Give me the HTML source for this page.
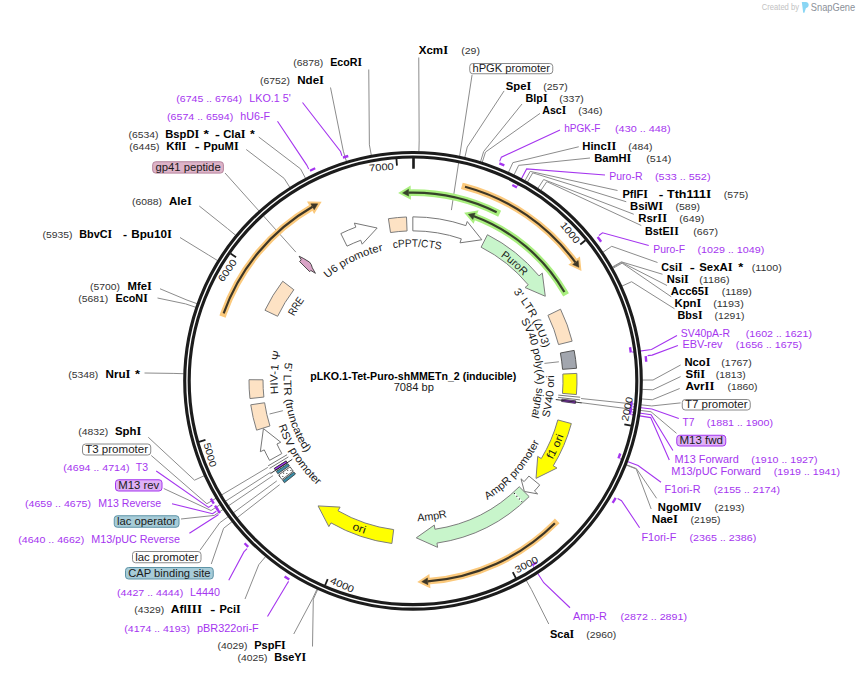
<!DOCTYPE html><html><head><meta charset="utf-8"><style>
body{margin:0;background:#fff;}
svg{display:block;font-family:"Liberation Sans",sans-serif;}
.b{font-weight:bold;font-size:10.8px;fill:#000;}
.n{font-size:9.4px;fill:#333;}
.si{font-family:"Liberation Serif",serif;font-weight:bold;font-size:11.7px;}
.p{font-size:10.8px;fill:#a535ef;}
.pn{font-size:9.4px;fill:#a535ef;}
.bt{font-size:10.8px;fill:#1a1a1a;}
.ft{fill:#1a1a1a;}
.tk{font-size:9.8px;fill:#222;}
.bx{stroke-width:1;}
.w{fill:#fff;stroke:#8a8a8a;}
.pk{fill:#ddb3c8;stroke:#b5849c;}
.pu{fill:#dfb1f7;stroke:#a535ef;}
.tl{fill:#a7ccd8;stroke:#5d93a6;}
.ld{fill:none;stroke:#8c8c8c;stroke-width:1;}
.lp{fill:none;stroke:#a535ef;stroke-width:1.1;}
.fw{fill:#fff;stroke:#777;stroke-width:1;}
.fpe{fill:#fde2c4;stroke:#7d7d7d;stroke-width:1;}
.fg{fill:#c8f5cb;stroke:#7d7d7d;stroke-width:1;}
.fy{fill:#ffff00;stroke:#7d7d7d;stroke-width:1;}
.fgr{fill:#a2a6ae;stroke:#555;stroke-width:1;}
.fpk{fill:#d9a3c6;stroke:#3a3a3a;stroke-width:0.9;stroke-linejoin:round;}
.cb{font-size:8.2px;fill:#c2c2c2;} .sg{font-size:10.2px;fill:#8b9199;}</style></head><body><svg width="859" height="674" viewBox="0 0 859 674">
<rect width="859" height="674" fill="#fff"/>
<polyline points="368.75,69.50 369.39,144.84 371.32,155.27" class="ld"/>
<polyline points="330.50,87.50 343.34,151.18 346.42,161.32" class="ld"/>
<polyline points="258.75,137.00 300.51,168.84 305.48,178.21" class="ld"/>
<polyline points="246.25,149.50 284.14,178.38 289.83,187.32" class="ld"/>
<polyline points="199.25,206.00 227.50,228.56 235.70,235.29" class="ld"/>
<polyline points="180.00,237.50 208.61,255.06 217.63,260.62" class="ld"/>
<polyline points="160.00,288.75 187.00,300.08 196.98,303.65" class="ld"/>
<polyline points="157.50,298.00 185.67,303.90 195.71,307.30" class="ld"/>
<polyline points="144.50,373.00 173.12,373.40 183.71,373.73" class="ld"/>
<polyline points="148.25,437.25 194.51,480.16 204.16,475.78" class="ld"/>
<polyline points="245.00,599.00 258.75,564.72 265.56,556.60" class="ld"/>
<polyline points="293.75,634.00 312.53,598.81 316.96,589.18" class="ld"/>
<polyline points="312.50,646.50 313.30,599.16 317.70,589.52" class="ld"/>
<polyline points="418.75,57.50 419.17,140.93 418.90,151.53" class="ld"/>
<polyline points="504.10,90.90 467.23,147.06 464.84,157.38" class="ld"/>
<polyline points="522.00,104.00 483.67,151.49 480.55,161.62" class="ld"/>
<polyline points="540.00,113.40 485.50,152.06 482.30,162.17" class="ld"/>
<polyline points="578.75,146.75 512.89,162.63 508.48,172.27" class="ld"/>
<polyline points="590.00,158.00 518.66,165.36 514.00,174.88" class="ld"/>
<polyline points="617.50,190.50 530.16,171.39 524.99,180.64" class="ld"/>
<polyline points="626.25,201.75 532.75,172.86 527.46,182.05" class="ld"/>
<polyline points="633.75,214.25 543.65,179.53 537.88,188.42" class="ld"/>
<polyline points="641.25,225.50 546.85,181.64 540.93,190.44" class="ld"/>
<polyline points="657.50,262.50 611.74,246.30 602.96,252.24" class="ld"/>
<polyline points="662.50,274.25 621.41,261.83 612.21,267.09" class="ld"/>
<polyline points="667.00,285.50 621.73,262.39 612.51,267.62" class="ld"/>
<polyline points="671.25,296.75 622.15,263.13 612.91,268.33" class="ld"/>
<polyline points="674.50,308.75 631.58,281.73 621.92,286.11" class="ld"/>
<polyline points="680.60,365.00 653.00,380.00 642.40,380.04" class="ld"/>
<polyline points="680.60,376.60 652.83,389.79 642.24,389.39" class="ld"/>
<polyline points="679.70,388.50 652.25,399.78 641.69,398.94" class="ld"/>
<polyline points="656.60,498.30 636.38,468.60 626.52,464.72" class="ld"/>
<polyline points="651.20,509.00 636.23,468.99 626.37,465.10" class="ld"/>
<polyline points="548.75,624.00 531.46,589.58 526.23,580.36" class="ld"/>
<polyline points="302.50,102.50 340.57,151.52 341.93,155.81" class="lp"/>
<polyline points="277.50,121.25 306.75,165.09 308.74,169.13" class="lp"/>
<polyline points="156.25,471.00 208.51,507.43 212.33,505.06" class="lp"/>
<polyline points="172.00,503.80 212.53,513.71 216.28,511.23" class="lp"/>
<polyline points="189.40,533.30 214.80,517.07 218.51,514.53" class="lp"/>
<polyline points="228.75,580.25 243.91,551.87 247.07,548.67" class="lp"/>
<polyline points="267.50,616.50 286.20,585.21 288.58,581.39" class="lp"/>
<polyline points="560.00,130.00 501.35,157.16 499.69,161.35" class="lp"/>
<polyline points="605.00,175.00 526.66,168.90 517.53,185.91" class="lp"/>
<polyline points="648.75,245.50 602.50,232.76 598.95,235.53" class="lp"/>
<polyline points="677.00,335.60 651.46,349.57 632.32,352.08" class="lp"/>
<polyline points="677.90,345.40 652.12,355.11 647.64,355.59" class="lp"/>
<polyline points="678.80,418.50 651.85,408.93 632.69,406.68" class="lp"/>
<polyline points="672.90,450.50 651.11,414.64 632.01,411.93" class="lp"/>
<polyline points="669.30,460.00 650.68,417.60 631.60,414.65" class="lp"/>
<polyline points="661.00,482.30 638.08,465.59 620.02,458.79" class="lp"/>
<polyline points="639.60,527.70 621.52,500.69 617.62,498.44" class="lp"/>
<polyline points="570.00,607.75 543.75,582.70 533.26,566.50" class="lp"/>
<polyline points="151.25,455.50 206.85,503.74 267.84,467.39" class="ld"/>
<polyline points="163.75,488.50 211.04,510.51 270.78,472.15" class="ld"/>
<polyline points="181.00,519.00 214.27,515.40 273.06,475.60" class="ld"/>
<polyline points="200.00,550.25 219.58,522.93 276.80,480.90" class="ld"/>
<polyline points="211.25,564.00 223.62,528.28 279.64,484.66" class="ld"/>
<polyline points="680.60,402.90 651.69,405.94 581.07,398.52" class="ld"/>
<polyline points="676.50,433.30 651.00,411.76 580.59,402.62" class="ld"/>
<polyline points="472.10,74.70 451.40,210.10" class="ld"/>
<polyline points="225.00,173.00 295.90,252.15" class="ld"/>
<polyline points="269.50,414.00 282.90,410.70" class="ld"/>
<polyline points="544.40,363.40 558.90,361.80" class="ld"/>
<path d="M223.65,313.42 A201.0,201.0 0 0 1 312.52,206.77" fill="none" stroke="#fbc97c" stroke-width="6.6" stroke-linecap="square"/>
<path d="M310.82,203.82 L317.76,203.85 L314.22,209.71 Z" fill="#fbc97c" stroke="#fbc97c" stroke-width="4.4" stroke-linejoin="miter" stroke-miterlimit="3"/>
<path d="M223.65,313.42 A201.0,201.0 0 0 1 312.52,206.77" fill="none" stroke="#3d3626" stroke-width="2.2"/>
<path d="M310.82,203.82 L317.76,203.85 L314.22,209.71 Z" fill="#3d3626" stroke="#3d3626" stroke-width="0.5"/>
<path d="M465.02,186.70 A201.0,201.0 0 0 1 575.42,262.44" fill="none" stroke="#fbc97c" stroke-width="6.6" stroke-linecap="square"/>
<path d="M578.16,260.43 L578.88,267.34 L572.67,264.44 Z" fill="#fbc97c" stroke="#fbc97c" stroke-width="4.4" stroke-linejoin="miter" stroke-miterlimit="3"/>
<path d="M465.02,186.70 A201.0,201.0 0 0 1 575.42,262.44" fill="none" stroke="#3d3626" stroke-width="2.2"/>
<path d="M578.16,260.43 L578.88,267.34 L572.67,264.44 Z" fill="#3d3626" stroke="#3d3626" stroke-width="0.5"/>
<path d="M554.88,523.23 A201.0,201.0 0 0 1 427.70,581.31" fill="none" stroke="#fbc97c" stroke-width="6.6" stroke-linecap="square"/>
<path d="M427.95,584.70 L421.71,581.66 L427.45,577.92 Z" fill="#fbc97c" stroke="#fbc97c" stroke-width="4.4" stroke-linejoin="miter" stroke-miterlimit="3"/>
<path d="M554.88,523.23 A201.0,201.0 0 0 1 427.70,581.31" fill="none" stroke="#3d3626" stroke-width="2.2"/>
<path d="M427.95,584.70 L421.71,581.66 L427.45,577.92 Z" fill="#3d3626" stroke="#3d3626" stroke-width="0.5"/>
<path d="M496.68,212.28 A188.2,188.2 0 0 0 408.59,192.70" fill="none" stroke="#a9ef7f" stroke-width="6.6" stroke-linecap="square"/>
<path d="M408.51,189.30 L402.59,192.94 L408.67,196.10 Z" fill="#a9ef7f" stroke="#a9ef7f" stroke-width="4.4" stroke-linejoin="miter" stroke-miterlimit="3"/>
<path d="M496.68,212.28 A188.2,188.2 0 0 0 408.59,192.70" fill="none" stroke="#36422a" stroke-width="2.2"/>
<path d="M408.51,189.30 L402.59,192.94 L408.67,196.10 Z" fill="#36422a" stroke="#36422a" stroke-width="0.5"/>
<path d="M564.37,292.04 A175.5,175.5 0 0 0 474.01,216.30" fill="none" stroke="#a9ef7f" stroke-width="6.6" stroke-linecap="square"/>
<path d="M475.19,213.11 L468.35,214.31 L472.83,219.48 Z" fill="#a9ef7f" stroke="#a9ef7f" stroke-width="4.4" stroke-linejoin="miter" stroke-miterlimit="3"/>
<path d="M564.37,292.04 A175.5,175.5 0 0 0 474.01,216.30" fill="none" stroke="#36422a" stroke-width="2.2"/>
<path d="M475.19,213.11 L468.35,214.31 L472.83,219.48 Z" fill="#36422a" stroke="#36422a" stroke-width="0.5"/>
<circle cx="413.0" cy="380.85" r="226.05" fill="none" stroke="#1c1c1c" stroke-width="7.6"/>
<circle cx="413.0" cy="380.85" r="226.05" fill="none" stroke="#fff" stroke-width="1.35"/>
<path d="M342.92,157.59 A234.00,234.00 0 0 1 348.26,155.98" fill="none" stroke="#a535ef" stroke-width="2.4"/>
<path d="M309.99,170.74 A234.00,234.00 0 0 1 315.21,168.26" fill="none" stroke="#a535ef" stroke-width="2.4"/>
<path d="M213.82,503.66 A234.00,234.00 0 0 1 210.84,498.70" fill="none" stroke="#a535ef" stroke-width="2.4"/>
<path d="M217.73,509.78 A234.00,234.00 0 0 1 215.04,505.62" fill="none" stroke="#a535ef" stroke-width="2.4"/>
<path d="M219.93,513.06 A234.00,234.00 0 0 1 216.49,507.89" fill="none" stroke="#a535ef" stroke-width="2.4"/>
<path d="M248.19,546.96 A234.00,234.00 0 0 1 244.57,543.29" fill="none" stroke="#a535ef" stroke-width="2.4"/>
<path d="M289.28,579.47 A234.00,234.00 0 0 1 284.59,576.47" fill="none" stroke="#a535ef" stroke-width="2.4"/>
<path d="M499.34,163.36 A234.00,234.00 0 0 1 504.31,165.40" fill="none" stroke="#a535ef" stroke-width="2.4"/>
<path d="M512.31,184.99 A219.60,219.60 0 0 1 516.95,187.41" fill="none" stroke="#a535ef" stroke-width="2.4"/>
<path d="M597.63,237.08 A234.00,234.00 0 0 1 601.12,241.69" fill="none" stroke="#a535ef" stroke-width="2.4"/>
<path d="M630.02,347.30 A219.60,219.60 0 0 1 630.76,352.48" fill="none" stroke="#a535ef" stroke-width="2.4"/>
<path d="M645.70,356.21 A234.00,234.00 0 0 1 646.22,361.76" fill="none" stroke="#a535ef" stroke-width="2.4"/>
<path d="M631.63,401.48 A219.60,219.60 0 0 1 631.08,406.68" fill="none" stroke="#a535ef" stroke-width="2.4"/>
<path d="M631.03,407.09 A219.60,219.60 0 0 1 630.39,411.90" fill="none" stroke="#a535ef" stroke-width="2.4"/>
<path d="M630.81,408.83 A219.60,219.60 0 0 1 629.99,414.59" fill="none" stroke="#a535ef" stroke-width="2.4"/>
<path d="M620.24,453.48 A219.60,219.60 0 0 1 618.45,458.40" fill="none" stroke="#a535ef" stroke-width="2.4"/>
<path d="M615.68,497.80 A234.00,234.00 0 0 1 612.62,502.95" fill="none" stroke="#a535ef" stroke-width="2.4"/>
<path d="M536.59,562.37 A219.60,219.60 0 0 1 532.23,565.27" fill="none" stroke="#a535ef" stroke-width="2.4"/>
<line x1="413.51" y1="157.25" x2="413.48" y2="168.85" stroke="#1c1c1c" stroke-width="2.6"/>
<line x1="585.47" y1="240.28" x2="580.28" y2="244.51" stroke="#1c1c1c" stroke-width="1.8"/>
<text transform="rotate(50.82 413.0 380.85)" x="385.00" y="168.85" textLength="24.8" lengthAdjust="spacingAndGlyphs" class="tk">1000</text>
<line x1="630.93" y1="425.73" x2="624.36" y2="424.38" stroke="#1c1c1c" stroke-width="1.8"/>
<text transform="rotate(-78.36 413.0 380.85)" x="416.20" y="599.65" textLength="24.8" lengthAdjust="spacingAndGlyphs" class="tk">2000</text>
<line x1="515.89" y1="578.13" x2="512.79" y2="572.19" stroke="#1c1c1c" stroke-width="1.8"/>
<text transform="rotate(-27.54 413.0 380.85)" x="416.20" y="599.65" textLength="24.8" lengthAdjust="spacingAndGlyphs" class="tk">3000</text>
<line x1="325.08" y1="585.24" x2="327.73" y2="579.09" stroke="#1c1c1c" stroke-width="1.8"/>
<text transform="rotate(23.27 413.0 380.85)" x="416.20" y="599.65" textLength="24.8" lengthAdjust="spacingAndGlyphs" class="tk">4000</text>
<line x1="199.02" y1="441.83" x2="205.46" y2="439.99" stroke="#1c1c1c" stroke-width="1.8"/>
<text transform="rotate(74.09 413.0 380.85)" x="416.20" y="599.65" textLength="24.8" lengthAdjust="spacingAndGlyphs" class="tk">5000</text>
<line x1="230.54" y1="253.51" x2="236.04" y2="257.34" stroke="#1c1c1c" stroke-width="1.8"/>
<text transform="rotate(304.91 413.0 380.85)" x="385.00" y="168.85" textLength="24.8" lengthAdjust="spacingAndGlyphs" class="tk">6000</text>
<line x1="396.44" y1="158.97" x2="396.94" y2="165.65" stroke="#1c1c1c" stroke-width="1.8"/>
<text transform="rotate(355.73 413.0 380.85)" x="385.00" y="168.85" textLength="24.8" lengthAdjust="spacingAndGlyphs" class="tk">7000</text>
<path d="M412.83,216.85 A164.0,164.0 0 0 1 465.85,225.60 L467.24,221.53 L481.82,239.74 L459.99,242.83 L461.34,238.85 A150.0,150.0 0 0 0 412.84,230.85 Z" class="fw"/>
<path d="M388.42,218.70 A164.0,164.0 0 0 1 406.50,216.98 L407.06,230.97 A150.0,150.0 0 0 0 390.52,232.54 Z" class="fpe"/>
<path d="M487.45,234.72 A164.0,164.0 0 0 1 539.00,275.87 L542.30,273.12 L545.27,296.26 L525.02,287.52 L528.24,284.83 A150.0,150.0 0 0 0 481.10,247.20 Z" class="fg"/>
<path d="M560.53,309.21 A164.0,164.0 0 0 1 572.13,341.17 L558.54,344.56 A150.0,150.0 0 0 0 547.93,315.33 Z" class="fpe"/>
<path d="M574.15,350.40 A164.0,164.0 0 0 1 576.52,368.27 L562.56,369.34 A150.0,150.0 0 0 0 560.39,353.00 Z" class="fgr"/>
<path d="M576.83,373.41 A164.0,164.0 0 0 1 576.42,394.57 L562.47,393.40 A150.0,150.0 0 0 0 562.85,374.05 Z" class="fy"/>
<path d="M571.34,423.57 A164.0,164.0 0 0 1 553.28,465.81 L556.96,468.03 L536.04,478.37 L537.71,456.38 L541.30,458.55 A150.0,150.0 0 0 0 557.82,419.93 Z" class="fy"/>
<path d="M529.17,496.61 A164.0,164.0 0 0 1 436.96,543.09 L437.59,547.34 L416.29,537.82 L434.30,525.09 L434.91,529.24 A150.0,150.0 0 0 0 519.25,486.73 Z" class="fg"/>
<path d="M539.73,484.95 A164.0,164.0 0 0 1 534.49,491.01 L537.68,493.90 L524.40,491.48 L521.01,478.79 L524.12,481.61 A150.0,150.0 0 0 0 528.91,476.06 Z" class="fw"/>
<path d="M391.88,543.48 A164.0,164.0 0 0 1 331.00,522.88 L328.85,526.60 L318.08,505.91 L340.10,507.12 L338.00,510.75 A150.0,150.0 0 0 0 393.68,529.60 Z" class="fy"/>
<path d="M269.56,460.36 A164.0,164.0 0 0 1 264.24,449.90 L260.34,451.71 L263.43,428.58 L280.75,442.24 L276.94,444.01 A150.0,150.0 0 0 0 281.81,453.57 Z" class="fw"/>
<path d="M256.59,430.17 A164.0,164.0 0 0 1 250.76,404.81 L264.61,402.76 A150.0,150.0 0 0 0 269.94,425.96 Z" class="fpe"/>
<path d="M249.96,398.56 A164.0,164.0 0 0 1 249.00,379.71 L263.00,379.80 A150.0,150.0 0 0 0 263.88,397.05 Z" class="fpe"/>
<path d="M264.98,310.25 A164.0,164.0 0 0 1 282.72,281.24 L293.84,289.74 A150.0,150.0 0 0 0 277.61,316.27 Z" class="fpe"/>
<path d="M340.85,233.57 A164.0,164.0 0 0 1 355.83,227.14 L354.34,223.11 L377.15,228.00 L362.18,244.19 L360.71,240.26 A150.0,150.0 0 0 0 347.01,246.15 Z" class="fw"/>
<line x1="514.04" y1="493.06" x2="522.07" y2="501.98" stroke="#fff" stroke-width="1.6"/>
<line x1="514.04" y1="493.06" x2="522.07" y2="501.98" stroke="#111" stroke-width="1.1" stroke-dasharray="1.1,2.6"/>
<polygon points="299.1,256.2 303.8,258.6 309.5,262.1 311.3,264.7 312.3,267.8 315.4,273.3 310.8,270.4 309.7,271.7 299.6,261.6 301.2,259.8" class="fpk"/>
<path d="M275.46,470.17 A164.0,164.0 0 0 1 274.22,468.24 L286.07,460.78 A150.0,150.0 0 0 0 287.20,462.55 Z" class="fpu"/>
<path d="M275.54,470.29 A164.0,164.0 0 0 1 274.30,468.36 L286.14,460.89 A150.0,150.0 0 0 0 287.27,462.66 Z" fill="#a535ef" stroke="#333" stroke-width="0.8"/>
<path d="M277.84,473.74 A164.0,164.0 0 0 1 276.24,471.37 L287.92,463.64 A150.0,150.0 0 0 0 289.38,465.81 Z" fill="#3a8ea8" stroke="#333" stroke-width="0.8"/>
<path d="M282.02,479.55 A164.0,164.0 0 0 1 278.66,474.92 L290.13,466.89 A150.0,150.0 0 0 0 293.20,471.12 Z" fill="#fff" stroke="#333" stroke-width="0.8"/>
<circle cx="290.90" cy="470.54" r="0.55" fill="#111"/>
<circle cx="287.71" cy="470.22" r="0.55" fill="#111"/>
<circle cx="286.87" cy="473.50" r="0.55" fill="#111"/>
<circle cx="283.64" cy="473.12" r="0.55" fill="#111"/>
<circle cx="282.84" cy="476.46" r="0.55" fill="#111"/>
<circle cx="279.57" cy="476.03" r="0.55" fill="#111"/>
<line x1="292.30" y1="459.38" x2="270.51" y2="473.56" stroke="#222" stroke-width="0.9"/>
<path d="M284.47,482.72 A164.0,164.0 0 0 1 282.72,480.46 L293.84,471.96 A150.0,150.0 0 0 0 295.45,474.02 Z" fill="#3a8ea8" stroke="#333" stroke-width="0.8"/>
<line x1="288.38" y1="456.92" x2="269.60" y2="468.38" stroke="#555" stroke-width="0.8"/>
<line x1="287.07" y1="454.73" x2="268.10" y2="465.86" stroke="#555" stroke-width="0.8"/>
<path d="M575.78,400.84 A164.0,164.0 0 0 1 575.44,403.39 L561.58,401.47 A150.0,150.0 0 0 0 561.88,399.13 Z" fill="#a535ef" stroke="#333" stroke-width="0.8"/>
<line x1="555.78" y1="399.52" x2="581.56" y2="402.89" stroke="#222" stroke-width="0.9"/>
<line x1="558.30" y1="395.10" x2="580.20" y2="397.24" stroke="#555" stroke-width="0.8"/>
<line x1="558.06" y1="397.38" x2="579.92" y2="399.87" stroke="#555" stroke-width="0.8"/>
<path id="tp0" d="M278.07,376.61 A135.00,135.00 0 0 1 547.93,385.09" fill="none"/>
<text class="ft" style="font-size:10.8px"><textPath href="#tp0" startOffset="50%" text-anchor="middle" textLength="48.00" lengthAdjust="spacingAndGlyphs">cPPT/CTS</textPath></text>
<path id="tp1" d="M293.38,440.36 A133.60,133.60 0 0 1 532.62,321.34" fill="none"/>
<text class="ft" style="font-size:10.8px"><textPath href="#tp1" startOffset="50%" text-anchor="middle" textLength="63.00" lengthAdjust="spacingAndGlyphs">U6 promoter</textPath></text>
<path id="tp2" d="M340.36,494.88 A135.20,135.20 0 0 1 485.64,266.82" fill="none"/>
<text class="ft" style="font-size:10.8px"><textPath href="#tp2" startOffset="50%" text-anchor="middle" textLength="19.50" lengthAdjust="spacingAndGlyphs">RRE</textPath></text>
<path id="tp3" d="M297.33,281.01 A152.80,152.80 0 0 1 528.67,480.69" fill="none"/>
<text class="ft" style="font-size:10.8px"><textPath href="#tp3" startOffset="50%" text-anchor="middle" textLength="30.50" lengthAdjust="spacingAndGlyphs">PuroR</textPath></text>
<path id="tp4" d="M350.55,262.40 A133.90,133.90 0 0 1 475.45,499.30" fill="none"/>
<text class="ft" style="font-size:10.8px"><textPath href="#tp4" startOffset="50%" text-anchor="middle" textLength="64.00" lengthAdjust="spacingAndGlyphs">3' LTR (ΔU3)</textPath></text>
<path id="tp5" d="M399.76,257.96 A123.60,123.60 0 0 1 426.24,503.74" fill="none"/>
<text class="ft" style="font-size:10.8px"><textPath href="#tp5" startOffset="50%" text-anchor="middle" textLength="100.00" lengthAdjust="spacingAndGlyphs">SV40 poly(A) signal</textPath></text>
<path id="tp6" d="M396.99,521.34 A141.40,141.40 0 0 0 429.01,240.36" fill="none"/>
<text class="ft" style="font-size:10.8px"><textPath href="#tp6" startOffset="50%" text-anchor="middle" textLength="43.40" lengthAdjust="spacingAndGlyphs">SV40 ori</textPath></text>
<path id="tp7" d="M345.72,526.46 A160.40,160.40 0 0 0 480.28,235.24" fill="none"/>
<text class="ft" style="font-size:10.8px"><textPath href="#tp7" startOffset="50%" text-anchor="middle" textLength="26.50" lengthAdjust="spacingAndGlyphs">f1 ori</textPath></text>
<path id="tp8" d="M319.05,485.19 A140.40,140.40 0 0 0 506.95,276.51" fill="none"/>
<text class="ft" style="font-size:10.8px"><textPath href="#tp8" startOffset="50%" text-anchor="middle" textLength="79.00" lengthAdjust="spacingAndGlyphs">AmpR promoter</textPath></text>
<path id="tp9" d="M272.98,400.53 A141.40,141.40 0 0 0 553.02,361.17" fill="none"/>
<text class="ft" style="font-size:10.8px"><textPath href="#tp9" startOffset="50%" text-anchor="middle" textLength="30.00" lengthAdjust="spacingAndGlyphs">AmpR</textPath></text>
<path id="tp10" d="M262.27,325.99 A160.40,160.40 0 0 0 563.73,435.71" fill="none"/>
<text class="ft" style="font-size:10.8px"><textPath href="#tp10" startOffset="50%" text-anchor="middle" textLength="13.50" lengthAdjust="spacingAndGlyphs">ori</textPath></text>
<path id="tp11" d="M335.72,261.84 A141.90,141.90 0 0 0 490.28,499.86" fill="none"/>
<text class="ft" style="font-size:10.8px"><textPath href="#tp11" startOffset="50%" text-anchor="middle" textLength="72.00" lengthAdjust="spacingAndGlyphs">RSV promoter</textPath></text>
<path id="tp12" d="M384.22,254.18 A129.90,129.90 0 0 0 441.78,507.52" fill="none"/>
<text class="ft" style="font-size:10.8px"><textPath href="#tp12" startOffset="50%" text-anchor="middle" textLength="95.00" lengthAdjust="spacingAndGlyphs">5' LTR (truncated)</textPath></text>
<path id="tp13" d="M404.73,516.00 A135.40,135.40 0 0 1 421.27,245.70" fill="none"/>
<text class="ft" style="font-size:10.8px"><textPath href="#tp13" startOffset="50%" text-anchor="middle" textLength="43.00" lengthAdjust="spacingAndGlyphs">HIV-1 Ψ</textPath></text>
<text x="310.20" y="379.50" textLength="206.10" lengthAdjust="spacingAndGlyphs" class="b" style="font-size:10px">pLKO.1-Tet-Puro-shMMETn_2 (inducible)</text>
<text x="393.70" y="390.50" textLength="40.20" lengthAdjust="spacingAndGlyphs" class="ft" style="font-size:10.2px">7084 bp</text>
<text x="293.25" y="66.00" textLength="30.00" lengthAdjust="spacingAndGlyphs" class="n">(6878)</text>
<text x="330.25" y="66.00" textLength="31.75" lengthAdjust="spacingAndGlyphs" class="b">EcoR<tspan class="si">I</tspan></text>
<text x="260.00" y="84.00" textLength="30.00" lengthAdjust="spacingAndGlyphs" class="n">(6752)</text>
<text x="297.25" y="84.00" textLength="26.75" lengthAdjust="spacingAndGlyphs" class="b">Nde<tspan class="si">I</tspan></text>
<text x="176.25" y="102.00" textLength="65.75" lengthAdjust="spacingAndGlyphs" class="pn">(6745 .. 6764)</text>
<text x="249.25" y="102.00" textLength="41.50" lengthAdjust="spacingAndGlyphs" class="p">LKO.1 5'</text>
<text x="167.00" y="119.50" textLength="66.25" lengthAdjust="spacingAndGlyphs" class="pn">(6574 .. 6594)</text>
<text x="240.25" y="119.50" textLength="29.75" lengthAdjust="spacingAndGlyphs" class="p">hU6-F</text>
<text x="128.50" y="137.50" textLength="30.00" lengthAdjust="spacingAndGlyphs" class="n">(6534)</text>
<text x="165.30" y="137.50" textLength="33.90" lengthAdjust="spacingAndGlyphs" class="b">BspD<tspan class="si">I</tspan></text>
<text x="203.60" y="137.50" textLength="5.40" lengthAdjust="spacingAndGlyphs" class="b">*</text>
<text x="214.90" y="137.50" textLength="4.90" lengthAdjust="spacingAndGlyphs" class="b">-</text>
<text x="223.20" y="137.50" textLength="22.30" lengthAdjust="spacingAndGlyphs" class="b">Cla<tspan class="si">I</tspan></text>
<text x="250.00" y="137.50" textLength="4.80" lengthAdjust="spacingAndGlyphs" class="b">*</text>
<text x="129.30" y="149.50" textLength="30.20" lengthAdjust="spacingAndGlyphs" class="n">(6445)</text>
<text x="166.20" y="149.50" textLength="20.20" lengthAdjust="spacingAndGlyphs" class="b">Kfl<tspan class="si">I</tspan></text>
<text x="194.70" y="149.50" textLength="4.90" lengthAdjust="spacingAndGlyphs" class="b">-</text>
<text x="203.60" y="149.50" textLength="35.00" lengthAdjust="spacingAndGlyphs" class="b">PpuM<tspan class="si">I</tspan></text>
<text x="132.00" y="205.00" textLength="30.00" lengthAdjust="spacingAndGlyphs" class="n">(6088)</text>
<text x="169.00" y="205.00" textLength="22.75" lengthAdjust="spacingAndGlyphs" class="b">Ale<tspan class="si">I</tspan></text>
<text x="42.50" y="238.00" textLength="30.00" lengthAdjust="spacingAndGlyphs" class="n">(5935)</text>
<text x="79.25" y="238.00" textLength="32.75" lengthAdjust="spacingAndGlyphs" class="b">BbvC<tspan class="si">I</tspan></text>
<text x="122.95" y="238.00" textLength="4.10" lengthAdjust="spacingAndGlyphs" class="b">-</text>
<text x="131.25" y="238.00" textLength="40.75" lengthAdjust="spacingAndGlyphs" class="b">Bpu10<tspan class="si">I</tspan></text>
<text x="90.00" y="290.00" textLength="30.00" lengthAdjust="spacingAndGlyphs" class="n">(5700)</text>
<text x="127.50" y="290.00" textLength="24.25" lengthAdjust="spacingAndGlyphs" class="b">Mfe<tspan class="si">I</tspan></text>
<text x="78.25" y="302.00" textLength="30.00" lengthAdjust="spacingAndGlyphs" class="n">(5681)</text>
<text x="115.50" y="302.00" textLength="32.25" lengthAdjust="spacingAndGlyphs" class="b">EcoN<tspan class="si">I</tspan></text>
<text x="68.25" y="377.50" textLength="30.00" lengthAdjust="spacingAndGlyphs" class="n">(5348)</text>
<text x="105.50" y="377.50" textLength="25.00" lengthAdjust="spacingAndGlyphs" class="b">Nru<tspan class="si">I</tspan></text>
<text x="135.00" y="377.50" textLength="5.00" lengthAdjust="spacingAndGlyphs" class="b">*</text>
<text x="78.25" y="435.00" textLength="30.00" lengthAdjust="spacingAndGlyphs" class="n">(4832)</text>
<text x="115.00" y="435.00" textLength="26.25" lengthAdjust="spacingAndGlyphs" class="b">Sph<tspan class="si">I</tspan></text>
<text x="63.25" y="470.50" textLength="66.25" lengthAdjust="spacingAndGlyphs" class="pn">(4694 .. 4714)</text>
<text x="135.75" y="470.50" textLength="12.25" lengthAdjust="spacingAndGlyphs" class="p">T3</text>
<text x="25.00" y="507.00" textLength="66.00" lengthAdjust="spacingAndGlyphs" class="pn">(4659 .. 4675)</text>
<text x="98.25" y="507.00" textLength="63.00" lengthAdjust="spacingAndGlyphs" class="p">M13 Reverse</text>
<text x="18.25" y="543.00" textLength="66.00" lengthAdjust="spacingAndGlyphs" class="pn">(4640 .. 4662)</text>
<text x="91.25" y="543.00" textLength="88.75" lengthAdjust="spacingAndGlyphs" class="p">M13/pUC Reverse</text>
<text x="117.00" y="595.50" textLength="66.25" lengthAdjust="spacingAndGlyphs" class="pn">(4427 .. 4444)</text>
<text x="190.00" y="595.50" textLength="30.00" lengthAdjust="spacingAndGlyphs" class="p">L4440</text>
<text x="134.25" y="613.00" textLength="30.00" lengthAdjust="spacingAndGlyphs" class="n">(4329)</text>
<text x="170.75" y="613.00" textLength="31.25" lengthAdjust="spacingAndGlyphs" class="b">Afl<tspan class="si">I</tspan><tspan class="si">I</tspan><tspan class="si">I</tspan></text>
<text x="210.20" y="613.00" textLength="5.10" lengthAdjust="spacingAndGlyphs" class="b">-</text>
<text x="219.50" y="613.00" textLength="21.25" lengthAdjust="spacingAndGlyphs" class="b">Pci<tspan class="si">I</tspan></text>
<text x="124.25" y="631.50" textLength="65.75" lengthAdjust="spacingAndGlyphs" class="pn">(4174 .. 4193)</text>
<text x="197.00" y="631.50" textLength="61.75" lengthAdjust="spacingAndGlyphs" class="p">pBR322ori-F</text>
<text x="217.50" y="649.00" textLength="30.00" lengthAdjust="spacingAndGlyphs" class="n">(4029)</text>
<text x="254.25" y="649.00" textLength="31.50" lengthAdjust="spacingAndGlyphs" class="b">PspF<tspan class="si">I</tspan></text>
<text x="237.50" y="661.00" textLength="30.00" lengthAdjust="spacingAndGlyphs" class="n">(4025)</text>
<text x="274.25" y="661.00" textLength="32.00" lengthAdjust="spacingAndGlyphs" class="b">BseY<tspan class="si">I</tspan></text>
<text x="418.75" y="53.50" textLength="29.25" lengthAdjust="spacingAndGlyphs" class="b">Xcm<tspan class="si">I</tspan></text>
<text x="461.25" y="53.50" textLength="18.75" lengthAdjust="spacingAndGlyphs" class="n">(29)</text>
<text x="505.75" y="90.00" textLength="25.50" lengthAdjust="spacingAndGlyphs" class="b">Spe<tspan class="si">I</tspan></text>
<text x="543.25" y="90.00" textLength="24.50" lengthAdjust="spacingAndGlyphs" class="n">(257)</text>
<text x="525.50" y="102.00" textLength="22.00" lengthAdjust="spacingAndGlyphs" class="b">Blp<tspan class="si">I</tspan></text>
<text x="559.25" y="102.00" textLength="24.50" lengthAdjust="spacingAndGlyphs" class="n">(337)</text>
<text x="542.25" y="114.00" textLength="24.00" lengthAdjust="spacingAndGlyphs" class="b">Asc<tspan class="si">I</tspan></text>
<text x="578.25" y="114.00" textLength="24.25" lengthAdjust="spacingAndGlyphs" class="n">(346)</text>
<text x="564.25" y="132.00" textLength="36.25" lengthAdjust="spacingAndGlyphs" class="p">hPGK-F</text>
<text x="615.00" y="132.00" textLength="55.50" lengthAdjust="spacingAndGlyphs" class="pn">(430 .. 448)</text>
<text x="582.25" y="150.00" textLength="34.00" lengthAdjust="spacingAndGlyphs" class="b">Hinc<tspan class="si">I</tspan><tspan class="si">I</tspan></text>
<text x="628.25" y="150.00" textLength="24.25" lengthAdjust="spacingAndGlyphs" class="n">(484)</text>
<text x="594.25" y="162.00" textLength="37.00" lengthAdjust="spacingAndGlyphs" class="b">BamH<tspan class="si">I</tspan></text>
<text x="646.25" y="162.00" textLength="25.00" lengthAdjust="spacingAndGlyphs" class="n">(514)</text>
<text x="609.25" y="180.00" textLength="33.25" lengthAdjust="spacingAndGlyphs" class="p">Puro-R</text>
<text x="655.00" y="180.00" textLength="55.50" lengthAdjust="spacingAndGlyphs" class="pn">(533 .. 552)</text>
<text x="622.50" y="198.20" textLength="25.50" lengthAdjust="spacingAndGlyphs" class="b">PflF<tspan class="si">I</tspan></text>
<text x="658.70" y="198.20" textLength="4.60" lengthAdjust="spacingAndGlyphs" class="b">-</text>
<text x="667.00" y="198.20" textLength="44.25" lengthAdjust="spacingAndGlyphs" class="b">Tth111<tspan class="si">I</tspan></text>
<text x="723.75" y="198.20" textLength="24.50" lengthAdjust="spacingAndGlyphs" class="n">(575)</text>
<text x="630.00" y="210.30" textLength="33.00" lengthAdjust="spacingAndGlyphs" class="b">BsiW<tspan class="si">I</tspan></text>
<text x="675.50" y="210.30" textLength="24.50" lengthAdjust="spacingAndGlyphs" class="n">(589)</text>
<text x="638.25" y="222.40" textLength="28.75" lengthAdjust="spacingAndGlyphs" class="b">Rsr<tspan class="si">I</tspan><tspan class="si">I</tspan></text>
<text x="679.25" y="222.40" textLength="25.00" lengthAdjust="spacingAndGlyphs" class="n">(649)</text>
<text x="645.00" y="234.50" textLength="33.75" lengthAdjust="spacingAndGlyphs" class="b">BstE<tspan class="si">I</tspan><tspan class="si">I</tspan></text>
<text x="693.25" y="234.50" textLength="24.75" lengthAdjust="spacingAndGlyphs" class="n">(667)</text>
<text x="653.25" y="252.50" textLength="31.75" lengthAdjust="spacingAndGlyphs" class="p">Puro-F</text>
<text x="697.50" y="252.50" textLength="66.75" lengthAdjust="spacingAndGlyphs" class="pn">(1029 .. 1049)</text>
<text x="661.25" y="270.50" textLength="21.25" lengthAdjust="spacingAndGlyphs" class="b">Csi<tspan class="si">I</tspan></text>
<text x="689.70" y="270.50" textLength="5.10" lengthAdjust="spacingAndGlyphs" class="b">-</text>
<text x="699.25" y="270.50" textLength="33.25" lengthAdjust="spacingAndGlyphs" class="b">SexA<tspan class="si">I</tspan></text>
<text x="738.25" y="270.50" textLength="5.00" lengthAdjust="spacingAndGlyphs" class="b">*</text>
<text x="751.75" y="270.50" textLength="30.00" lengthAdjust="spacingAndGlyphs" class="n">(1100)</text>
<text x="666.75" y="282.50" textLength="22.00" lengthAdjust="spacingAndGlyphs" class="b">Nsi<tspan class="si">I</tspan></text>
<text x="699.25" y="282.50" textLength="30.25" lengthAdjust="spacingAndGlyphs" class="n">(1186)</text>
<text x="670.75" y="294.50" textLength="38.00" lengthAdjust="spacingAndGlyphs" class="b">Acc65<tspan class="si">I</tspan></text>
<text x="721.75" y="294.50" textLength="30.00" lengthAdjust="spacingAndGlyphs" class="n">(1189)</text>
<text x="674.50" y="306.50" textLength="26.75" lengthAdjust="spacingAndGlyphs" class="b">Kpn<tspan class="si">I</tspan></text>
<text x="713.25" y="306.50" textLength="30.50" lengthAdjust="spacingAndGlyphs" class="n">(1193)</text>
<text x="677.50" y="318.50" textLength="25.00" lengthAdjust="spacingAndGlyphs" class="b">Bbs<tspan class="si">I</tspan></text>
<text x="714.50" y="318.50" textLength="30.00" lengthAdjust="spacingAndGlyphs" class="n">(1291)</text>
<text x="680.75" y="336.50" textLength="49.25" lengthAdjust="spacingAndGlyphs" class="p">SV40pA-R</text>
<text x="745.75" y="336.50" textLength="66.25" lengthAdjust="spacingAndGlyphs" class="pn">(1602 .. 1621)</text>
<text x="682.50" y="348.00" textLength="40.00" lengthAdjust="spacingAndGlyphs" class="p">EBV-rev</text>
<text x="735.75" y="348.00" textLength="66.25" lengthAdjust="spacingAndGlyphs" class="pn">(1656 .. 1675)</text>
<text x="684.50" y="366.00" textLength="26.00" lengthAdjust="spacingAndGlyphs" class="b">Nco<tspan class="si">I</tspan></text>
<text x="721.25" y="366.00" textLength="30.50" lengthAdjust="spacingAndGlyphs" class="n">(1767)</text>
<text x="685.50" y="378.00" textLength="19.50" lengthAdjust="spacingAndGlyphs" class="b">Sfi<tspan class="si">I</tspan></text>
<text x="715.75" y="378.00" textLength="30.00" lengthAdjust="spacingAndGlyphs" class="n">(1813)</text>
<text x="685.50" y="390.00" textLength="29.00" lengthAdjust="spacingAndGlyphs" class="b">Avr<tspan class="si">I</tspan><tspan class="si">I</tspan></text>
<text x="727.50" y="390.00" textLength="30.00" lengthAdjust="spacingAndGlyphs" class="n">(1860)</text>
<text x="682.50" y="426.00" textLength="12.00" lengthAdjust="spacingAndGlyphs" class="p">T7</text>
<text x="706.75" y="426.00" textLength="66.25" lengthAdjust="spacingAndGlyphs" class="pn">(1881 .. 1900)</text>
<text x="674.50" y="462.50" textLength="64.25" lengthAdjust="spacingAndGlyphs" class="p">M13 Forward</text>
<text x="751.25" y="462.50" textLength="66.25" lengthAdjust="spacingAndGlyphs" class="pn">(1910 .. 1927)</text>
<text x="671.25" y="474.50" textLength="89.50" lengthAdjust="spacingAndGlyphs" class="p">M13/pUC Forward</text>
<text x="773.75" y="474.50" textLength="66.25" lengthAdjust="spacingAndGlyphs" class="pn">(1919 .. 1941)</text>
<text x="664.50" y="492.50" textLength="36.00" lengthAdjust="spacingAndGlyphs" class="p">F1ori-R</text>
<text x="713.75" y="492.50" textLength="66.25" lengthAdjust="spacingAndGlyphs" class="pn">(2155 .. 2174)</text>
<text x="657.80" y="510.50" textLength="43.45" lengthAdjust="spacingAndGlyphs" class="b">NgoM<tspan class="si">I</tspan>V</text>
<text x="714.50" y="510.50" textLength="30.00" lengthAdjust="spacingAndGlyphs" class="n">(2193)</text>
<text x="651.75" y="522.50" textLength="26.25" lengthAdjust="spacingAndGlyphs" class="b">Nae<tspan class="si">I</tspan></text>
<text x="690.50" y="522.50" textLength="30.00" lengthAdjust="spacingAndGlyphs" class="n">(2195)</text>
<text x="641.40" y="541.00" textLength="34.85" lengthAdjust="spacingAndGlyphs" class="p">F1ori-F</text>
<text x="689.50" y="541.00" textLength="66.75" lengthAdjust="spacingAndGlyphs" class="pn">(2365 .. 2386)</text>
<text x="573.00" y="620.00" textLength="33.75" lengthAdjust="spacingAndGlyphs" class="p">Amp-R</text>
<text x="620.50" y="620.00" textLength="66.50" lengthAdjust="spacingAndGlyphs" class="pn">(2872 .. 2891)</text>
<text x="550.00" y="638.00" textLength="24.25" lengthAdjust="spacingAndGlyphs" class="b">Sca<tspan class="si">I</tspan></text>
<text x="586.25" y="638.00" textLength="30.00" lengthAdjust="spacingAndGlyphs" class="n">(2960)</text>
<rect x="469.75" y="63.50" width="83.00" height="10.25" rx="3" class="bx w"/>
<text x="472.45" y="71.65" textLength="77.60" lengthAdjust="spacingAndGlyphs" class="bt">hPGK promoter</text>
<rect x="152.70" y="161.75" width="70.70" height="11.35" rx="3" class="bx pk"/>
<text x="155.40" y="171.00" textLength="65.30" lengthAdjust="spacingAndGlyphs" class="bt">gp41 peptide</text>
<rect x="82.50" y="444.00" width="68.25" height="11.00" rx="3" class="bx w"/>
<text x="85.20" y="452.90" textLength="62.85" lengthAdjust="spacingAndGlyphs" class="bt">T3 promoter</text>
<rect x="115.50" y="479.75" width="46.50" height="11.25" rx="3" class="bx pu"/>
<text x="118.20" y="488.90" textLength="41.10" lengthAdjust="spacingAndGlyphs" class="bt">M13 rev</text>
<rect x="114.25" y="515.75" width="64.75" height="11.50" rx="3" class="bx tl"/>
<text x="116.95" y="525.15" textLength="59.35" lengthAdjust="spacingAndGlyphs" class="bt">lac operator</text>
<rect x="132.50" y="551.50" width="68.50" height="11.25" rx="3" class="bx w"/>
<text x="135.20" y="560.65" textLength="63.10" lengthAdjust="spacingAndGlyphs" class="bt">lac promoter</text>
<rect x="125.50" y="567.50" width="87.75" height="11.50" rx="3" class="bx tl"/>
<text x="128.20" y="576.90" textLength="82.35" lengthAdjust="spacingAndGlyphs" class="bt">CAP binding site</text>
<rect x="682.25" y="399.50" width="68.00" height="10.50" rx="3" class="bx w"/>
<text x="684.95" y="407.90" textLength="62.60" lengthAdjust="spacingAndGlyphs" class="bt">T7 promoter</text>
<rect x="676.75" y="435.25" width="49.00" height="10.75" rx="3" class="bx pu"/>
<text x="679.45" y="443.90" textLength="43.60" lengthAdjust="spacingAndGlyphs" class="bt">M13 fwd</text>
<text x="761.80" y="10.30" textLength="37.20" lengthAdjust="spacingAndGlyphs" class="cb">Created by</text>
<path d="M801.8,2 L805.6,2 Q808.9,2.2 808.7,5.3 Q808.5,8 805.9,8.3 L804.4,12.8 L803.2,12.8 Z" fill="#8ad6f4"/>
<text x="810.80" y="11.40" textLength="44.40" lengthAdjust="spacingAndGlyphs" class="sg">SnapGene</text>
</svg></body></html>
